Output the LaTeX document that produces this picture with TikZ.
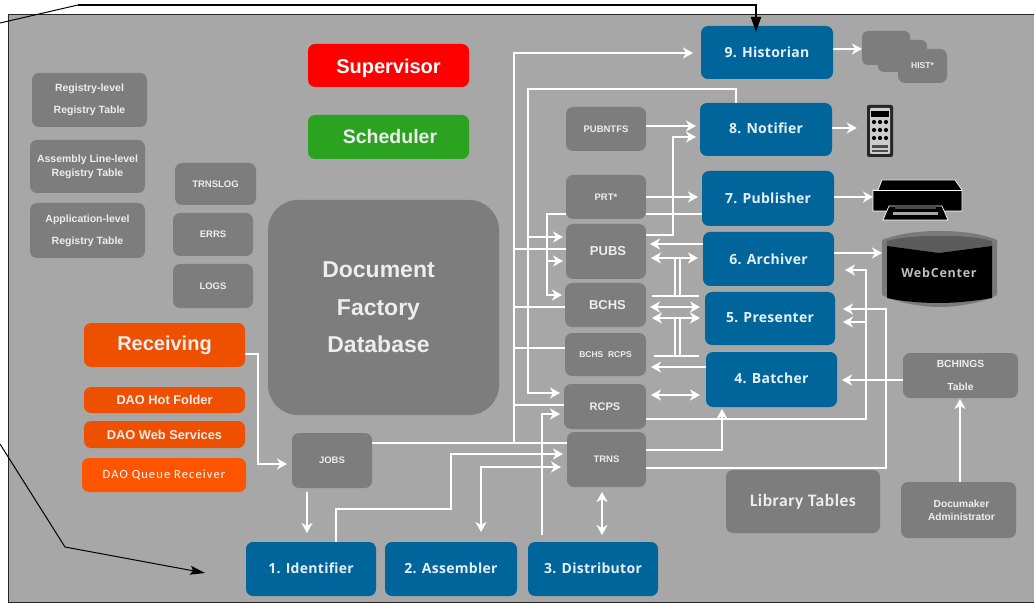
\documentclass[tikz,border=0pt]{standalone}
\usepackage{fontspec}
\setmainfont{Liberation Sans}
\newfontfamily\opensans{Open Sans}
\newfontfamily\carl{Carlito}
\usetikzlibrary{arrows.meta}
\definecolor{panelc}{HTML}{A7A7A7}
\definecolor{greyc}{HTML}{7D7D7D}
\definecolor{bluec}{HTML}{00659B}
\definecolor{orgc}{HTML}{EE5000}
\definecolor{orgb}{HTML}{FF5500}
\definecolor{redc}{HTML}{FF0000}
\definecolor{grnc}{HTML}{2CA320}
\definecolor{txtc}{HTML}{EDEDED}
\definecolor{bltx}{HTML}{E4F0F6}
\newcommand{\bx}[7]{\node[#5,#6,minimum width={(#4-#3)*1pt},minimum height={(#2-#1)*1pt}] (#7) at ({(#3+#4)/2},{(#1+#2)/2})}
\tikzset{
 basebox/.style={fill=#1,rounded corners=7pt,inner sep=0pt,outer sep=0pt,align=center,text=white},
 bluebox/.style={basebox=bluec,text=bltx,font=\opensans\bfseries\fontsize{14}{16}\selectfont\addfontfeature{LetterSpace=2}},
 greybox/.style={basebox=greyc,text=txtc,font=\bfseries\fontsize{9.5}{13}\selectfont},
 regbox/.style={basebox=greyc,text=txtc,font=\bfseries\fontsize{10.5}{12}\selectfont},
 orgbox/.style={basebox=orgc,text=txtc,font=\bfseries\fontsize{12.8}{14}\selectfont},
 arr/.style={line width=2.5pt,draw=white,-{Stealth[length=10pt,width=11pt,inset=3pt]}},
 dbl/.style={line width=2.5pt,draw=white,{Stealth[length=10pt,width=11pt,inset=3pt]}-{Stealth[length=10pt,width=11pt,inset=3pt]}},
 wline/.style={line width=2.5pt,draw=white},
 blk/.style={draw=black,line width=1pt},
}
\begin{document}
\begin{tikzpicture}[x=1pt,y=-1pt]
\useasboundingbox (0,0) rectangle (1034,604);
\fill[white] (0,0) rectangle (1034,604);
\draw[fill=panelc,draw=black!85,line width=1pt] (8,15) rectangle (1037,602);

% left tables
\bx{73}{127}{32}{147}{regbox}{}{rega} {Registry-level\\[10pt]Registry Table};
\bx{140}{193}{30}{145}{regbox}{}{regb} {Assembly Line-level\\[2pt]Registry Table};
\bx{203}{258}{30}{145}{regbox}{}{regc} {Application-level\\[10pt]Registry Table};
\bx{163}{205}{175}{256}{greybox}{}{trnslog} {TRNSLOG};
\bx{213}{256}{173}{253}{greybox}{}{errs} {ERRS};
\bx{264}{308}{173}{253}{greybox}{}{logs} {LOGS};
\bx{200}{415}{268}{499}{basebox=greyc}{rounded corners=30pt,text=txtc,font=\bfseries\fontsize{23}{38}\selectfont}{dfdb} {\raisebox{-2pt}{Document\hspace*{10pt}}\\\raisebox{-2pt}{Factory\hspace*{10pt}}\\\raisebox{-1pt}{Database\hspace*{10pt}}};
\bx{44}{87}{308}{469}{basebox=redc}{font=\bfseries\fontsize{20}{22}\selectfont}{sup} {\raisebox{-8.5pt}[0pt][0pt]{Supervisor}};
\bx{115}{159}{308}{469}{basebox=grnc}{font=\bfseries\fontsize{19.5}{22}\selectfont,text=txtc}{sch} {\hspace*{3pt}Scheduler};
\bx{323}{367}{84}{245}{basebox=orgc}{text=txtc,font=\bfseries\fontsize{20}{22}\selectfont}{recv} {Receiving};
\bx{387}{413}{84}{245}{orgbox}{}{hot} {DAO Hot Folder};
\bx{421}{448}{84}{245}{orgbox}{}{wsv} {DAO Web Services};
\bx{458}{492}{82}{246}{basebox=orgb}{font=\carl\fontsize{12.5}{14}\selectfont\addfontfeature{LetterSpace=9}}{que} {DAO Queue Receiver};

% grey column
\bx{107}{151}{566}{646}{greybox}{}{pubntfs} {PUBNTFS};
\bx{175}{219}{566}{646}{greybox}{}{prt} {PRT*};
\bx{224}{279}{566}{646}{greybox}{font=\bfseries\fontsize{13}{15}\selectfont}{pubs} {\hspace*{4pt}PUBS};
\bx{283}{327}{565}{646}{greybox}{font=\bfseries\fontsize{13}{15}\selectfont}{bchs} {\hspace*{4pt}BCHS};
\bx{333}{376}{565}{646}{greybox}{font=\bfseries\fontsize{8.5}{10}\selectfont}{bchr} {BCHS\ \ RCPS};
\bx{384}{429}{564}{646}{greybox}{font=\bfseries\fontsize{11}{13}\selectfont}{rcps} {RCPS};
\bx{432}{487}{567}{646}{greybox}{}{trns} {TRNS};
\bx{433}{488}{292}{372}{greybox}{}{jobs} {JOBS};

% blue boxes
\bx{26}{79}{701}{833}{bluebox}{}{hist} {9. Historian};
\bx{103}{156}{700}{832}{bluebox}{}{noti} {\raisebox{2pt}{8. Notifier}};
\bx{171}{226}{702}{834}{bluebox}{}{publ} {\raisebox{1pt}{7. Publisher}};
\bx{232}{286}{703}{834}{bluebox}{}{arch} {6. Archiver};
\bx{292}{345}{705}{835}{bluebox}{}{pres} {\raisebox{1pt}{5. Presenter}};
\bx{352}{407}{706}{837}{bluebox}{}{batc} {\raisebox{2pt}{4. Batcher}};
\bx{542}{596}{246}{376}{bluebox}{}{iden} {\raisebox{1pt}{1. Identifier}};
\bx{542}{596}{385}{517}{bluebox}{}{asse} {\raisebox{1pt}{2. Assembler}};
\bx{542}{596}{528}{658}{bluebox}{}{dist} {\raisebox{1pt}{3. Distributor}};

% right boxes
\bx{470}{533}{726}{880}{basebox=greyc}{text=txtc,font=\carl\bfseries\fontsize{17.5}{19}\selectfont\addfontfeature{LetterSpace=3}}{lib} {\raisebox{-2pt}{Library Tables}};
\bx{353}{398}{903}{1018}{regbox}{font=\bfseries\fontsize{10.3}{12}\selectfont}{bchi} {\raisebox{2pt}{BCHINGS}\\[9pt]Table};
\bx{482}{538}{901}{1016}{regbox}{font=\bfseries\fontsize{10.2}{13}\selectfont}{doca} {\hspace*{6pt}Documaker\\\hspace*{6pt}Administrator};

% HIST stack
\fill[greyc,rounded corners=6pt] (862,31) rectangle (910,65);
\fill[greyc,rounded corners=6pt] (878,40) rectangle (927,72);
\bx{49}{83}{898}{947}{greybox}{font=\bfseries\fontsize{8.5}{10}\selectfont}{histb} {HIST*};
\coordinate (histfront) at (862,49);

% phone
\node[fill=black!85,rounded corners=2pt,minimum width=26pt,minimum height=52pt,inner sep=0pt] (phone) at (880,131) {};
\fill[black!20,rounded corners=1pt] (870,108) rectangle (890,154);
\fill[black] (871,111) rectangle (889,117);
\foreach \yy in {122,130,138} \foreach \xx in {874,880,886} \fill[black] (\xx,\yy) circle (2.1);
\fill[black!70] (872,145) rectangle (888,148);
\fill[black!70] (872,150) rectangle (888,152);

% printer
\begin{scope}[draw=white,line width=.7pt]
\coordinate (printer) at (873,197);
\filldraw[fill=black] (878,190) -- (882,180) -- (955,180) -- (962,190) -- (962,211) -- (873,211) -- (873,190) -- cycle;
\filldraw[fill=black] (889,206) -- (883,220) -- (948,220) -- (942,206) -- cycle;
\fill[black!70] (895,205) rectangle (936,209);
\fill[panelc] (893,212) rectangle (938,215);
\fill[black] (888,216) rectangle (944,219);
\draw (873,190) -- (962,190);
\end{scope}

% WebCenter
\fill[black!52] (882,240) .. controls (900,233) and (920,231) .. (939,231) .. controls (960,231) and (980,233) .. (997,240) -- (997,295) .. controls (985,302) and (960,307) .. (939,307) .. controls (920,307) and (895,302) .. (882,295) -- cycle;
\fill[black!64] (887,241) .. controls (910,234) and (970,234) .. (992,241) -- (992,246) -- (939,253) -- (887,246) -- cycle;
\fill[black] (887,246) -- (939,253) -- (992,246) -- (992,298) .. controls (975,301) and (955,303) .. (939,303) .. controls (920,303) and (900,301) .. (887,298) -- cycle;
\node[text=black!25,inner sep=0pt,font=\opensans\bfseries\fontsize{12.5}{14}\selectfont\addfontfeature{LetterSpace=6}] (web) at (939,273) {WebCenter};
\coordinate (webin) at (882,253);

% connectors
\draw[arr,shorten >=8pt] (jobs.east |- 0,443) -| (514,53) -- (hist.west |- 0,53);
\draw[wline] (514,443) -- (trns.west |- 0,443);
\draw[wline] (514,249) -- (pubs.west |- 0,249);
\draw[wline] (514,307) -- (bchs.west |- 0,307);
\draw[wline] (514,348) -- (bchr.west |- 0,348);
\draw[wline] (514,405) -- (rcps.west |- 0,405);

\draw[arr,shorten >=4pt] (noti.north -| 736,0) |- (528,89) |- (rcps.west |- 0,393);
\draw[arr,shorten >=3pt] (528,237) -- (pubs.west |- 0,237);
\draw[arr,shorten >=3pt] (prt.west |- 0,214) -| (547,295) -- (bchs.west |- 0,295);
\draw[arr,shorten >=3pt] (547,261) -- (pubs.west |- 0,261);

\draw[arr,shorten >=4pt] (pubntfs.east |- 0,126) -- (noti.west |- 0,126);
\draw[arr,shorten >=4pt] (pubs.east |- 0,235) -| (673,137) -- (noti.west |- 0,137);
\draw[arr,shorten >=4pt] (prt.east |- 0,197) -- (publ.west |- 0,197);
\draw[wline] (publ.west |- 0,214) -- (prt.east |- 0,214);
\draw[arr,shorten >=4pt] (arch.west |- 0,244) -- (pubs.east |- 0,244);

\draw[dbl,shorten <=5pt,shorten >=5pt] (pubs.east |- 0,258) -- (arch.west |- 0,258);
\draw[wline] (675,258) -- (675,296);
\draw[wline] (680,258) -- (680,296);
\draw[wline,shorten <=6pt,shorten >=6pt] (bchs.east |- 0,296) -- (pres.west |- 0,296);
\draw[dbl,shorten <=4pt,shorten >=5pt] (bchs.east |- 0,307) -- (pres.west |- 0,307);
\draw[dbl,shorten <=6pt,shorten >=5pt] (bchs.east |- 0,318) -- (pres.west |- 0,318);
\draw[wline] (675,318) -- (675,356);
\draw[wline] (680,318) -- (680,356);
\draw[wline,shorten <=8pt,shorten >=7pt] (bchr.east |- 0,356) -- (batc.west |- 0,356);
\draw[arr,shorten >=5pt] (batc.west |- 0,367) -- (bchr.east |- 0,367);
\draw[dbl,shorten <=5pt,shorten >=6pt] (rcps.east |- 0,395) -- (batc.west |- 0,395);

\draw[arr,shorten >=11pt] (rcps.east |- 0,419) -| (866,270) -- (arch.east |- 0,270);
\draw[arr,shorten >=8pt] (866,322) -- (pres.east |- 0,322);
\draw[arr,shorten >=2pt] (trns.east |- 0,450) -| (batc.south -| 722,0);
\draw[arr,shorten >=8pt] (trns.east |- 0,468) -| (886,309) -- (pres.east |- 0,309);
\draw[arr,shorten >=5pt] (bchi.west |- 0,380) -- (batc.east |- 0,380);
\draw[arr,shorten >=1pt] (doca.north -| 960,0) -- (bchi.south -| 960,0);
\draw[arr] (arch.east |- 0,253) -- (webin);
\draw[arr] (hist.east |- 0,49) -- (histfront);
\draw[arr,shorten >=10pt] (noti.east |- 0,128) -- (phone.west |- 0,128);
\draw[arr] (publ.east |- 0,197) -- (printer |- 0,197);

\draw[arr,shorten >=5pt] (recv.east |- 0,354) -| (258,464) -- (jobs.west |- 0,464);
\draw[arr,shorten <=4pt,shorten >=9pt] (jobs.south -| 307,0) -- (iden.north -| 307,0);
\draw[arr,shorten >=4pt,line width=1.8pt] (iden.north -| 336,0) |- (451,509) |- (trns.west |- 0,454);
\draw[dbl,shorten <=10pt,shorten >=6pt] (asse.north -| 481,0) |- (trns.west |- 0,467);
\draw[arr,shorten <=7pt,shorten >=4pt] (dist.north -| 542,0) |- (rcps.west |- 0,414);
\draw[dbl,shorten <=5pt,shorten >=7pt] (trns.south -| 602,0) -- (dist.north -| 602,0);

% black leader lines
\coordinate (la) at (0,23);
\coordinate (lb) at (78,5);
\coordinate (lc) at (756,5);
\coordinate (ld) at (756,32);
\coordinate (le) at (0,444);
\coordinate (lf) at (65,547);
\coordinate (lg) at (205,573);
\draw[blk] (la) -- (lb);
\draw[draw=black,line width=1.9pt,-{Stealth[length=15pt,width=10pt,inset=0pt]}] (lb) -- (lc) -- (ld);
\draw[blk,-{Stealth[length=15pt,width=9pt,inset=3pt]}] (le) -- (lf) -- (lg);
\end{tikzpicture}
\end{document}
